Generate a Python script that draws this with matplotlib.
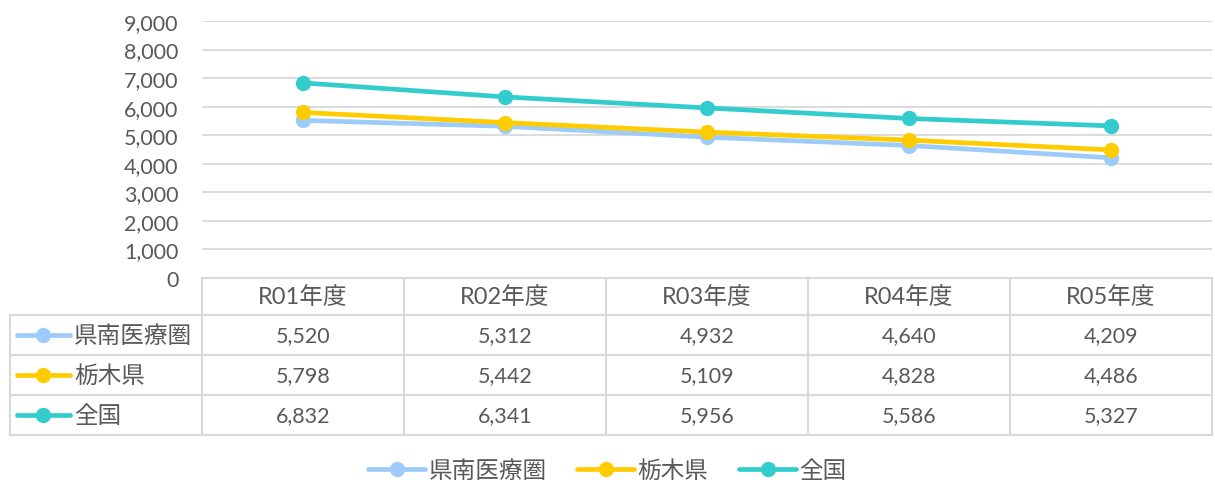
import matplotlib
matplotlib.use("Agg")
import matplotlib.pyplot as plt
from matplotlib.lines import Line2D

plt.rcParams['font.family'] = ['Lato', 'Noto Sans CJK JP', 'DejaVu Sans']

years = ["R01年度", "R02年度", "R03年度", "R04年度", "R05年度"]
series_names = ["県南医療圏", "栃木県", "全国"]
kennan = [5520, 5312, 4932, 4640, 4209]
tochigi = [5798, 5442, 5109, 4828, 4486]
zenkoku = [6832, 6341, 5956, 5586, 5327]
colors = ["#9DCBFA", "#FFCC00", "#33CCCC"]

series = [kennan, tochigi, zenkoku]
text_c = "#595959"
grid_c = "#D9D9D9"
fs_num = 15.5  # numbers
fs_jp = 17     # japanese labels

W, H = 1215, 485
fig = plt.figure(figsize=(W / 100, H / 100), dpi=100)

# chart area (pixel layout converted to figure fractions)
ax = fig.add_axes([202 / W, 1 - 279 / H, 1010 / W, 257 / H])
x = range(len(years))
for vals, col in zip(series, colors):
    ax.plot(x, vals, color=col, lw=3.4, marker="o", ms=10,
            solid_capstyle="round", zorder=3)
ax.set_xlim(-0.5, 4.5)
ax.set_ylim(0, 9000)
ax.set_yticks(range(0, 9001, 1000))
ax.set_yticklabels([f"{v:,}" for v in range(0, 9001, 1000)])
ax.tick_params(axis="y", length=0, pad=17, labelsize=fs_num, labelcolor=text_c)
ax.set_xticks([])
ax.grid(axis="y", color=grid_c, lw=1.3)
for s in ax.spines.values():
    s.set_visible(False)

# data table beneath the chart
tab = fig.add_axes([10 / W, 1 - 436 / H, 1202 / W, 157 / H])
x0 = 4.5 - 1202 / 202
tab.set_xlim(x0, 4.5)
tab.set_ylim(157, 0)
tab.axis("off")
rows = [0, 37, 77, 117, 157]

def px(p):
    return x0 + (p - 10) / 202

kw = dict(color=grid_c, lw=1.5, clip_on=False)
tab.plot([-0.5, 4.5], [rows[0]] * 2, **kw)
for r in rows[1:]:
    tab.plot([x0, 4.5], [r, r], **kw)
for i in range(6):
    tab.plot([i - 0.5] * 2, [rows[0], rows[-1]], **kw)
tab.plot([x0, x0], [rows[1], rows[-1]], **kw)

for i, yr in enumerate(years):
    tab.text(i, (rows[0] + rows[1]) / 2, yr, ha="center", va="center",
             fontsize=fs_jp, color=text_c)

for k, (name, vals, col) in enumerate(zip(series_names, series, colors)):
    yc = (rows[k + 1] + rows[k + 2]) / 2
    tab.plot([px(17), px(70)], [yc, yc], color=col, lw=3.4,
             solid_capstyle="round", clip_on=False)
    tab.plot([px(43)], [yc], color=col, marker="o", ms=10, clip_on=False)
    tab.text(px(74), yc, name, ha="left", va="center", fontsize=fs_jp,
             color=text_c)
    for i, v in enumerate(vals):
        tab.text(i, yc, f"{v:,}", ha="center", va="center", fontsize=fs_num,
                 color=text_c)

handles = [Line2D([], [], color=c, lw=3.4, marker="o", ms=10,
                  solid_capstyle="round") for c in colors]
fig.legend(handles, series_names, loc="center", bbox_to_anchor=(0.5, 1 - 471 / H),
           ncol=3, frameon=False, fontsize=fs_jp, labelcolor=text_c,
           handlelength=2.4, handletextpad=0.15, columnspacing=1.3)

fig.savefig("out.png", dpi=100, facecolor="white")
